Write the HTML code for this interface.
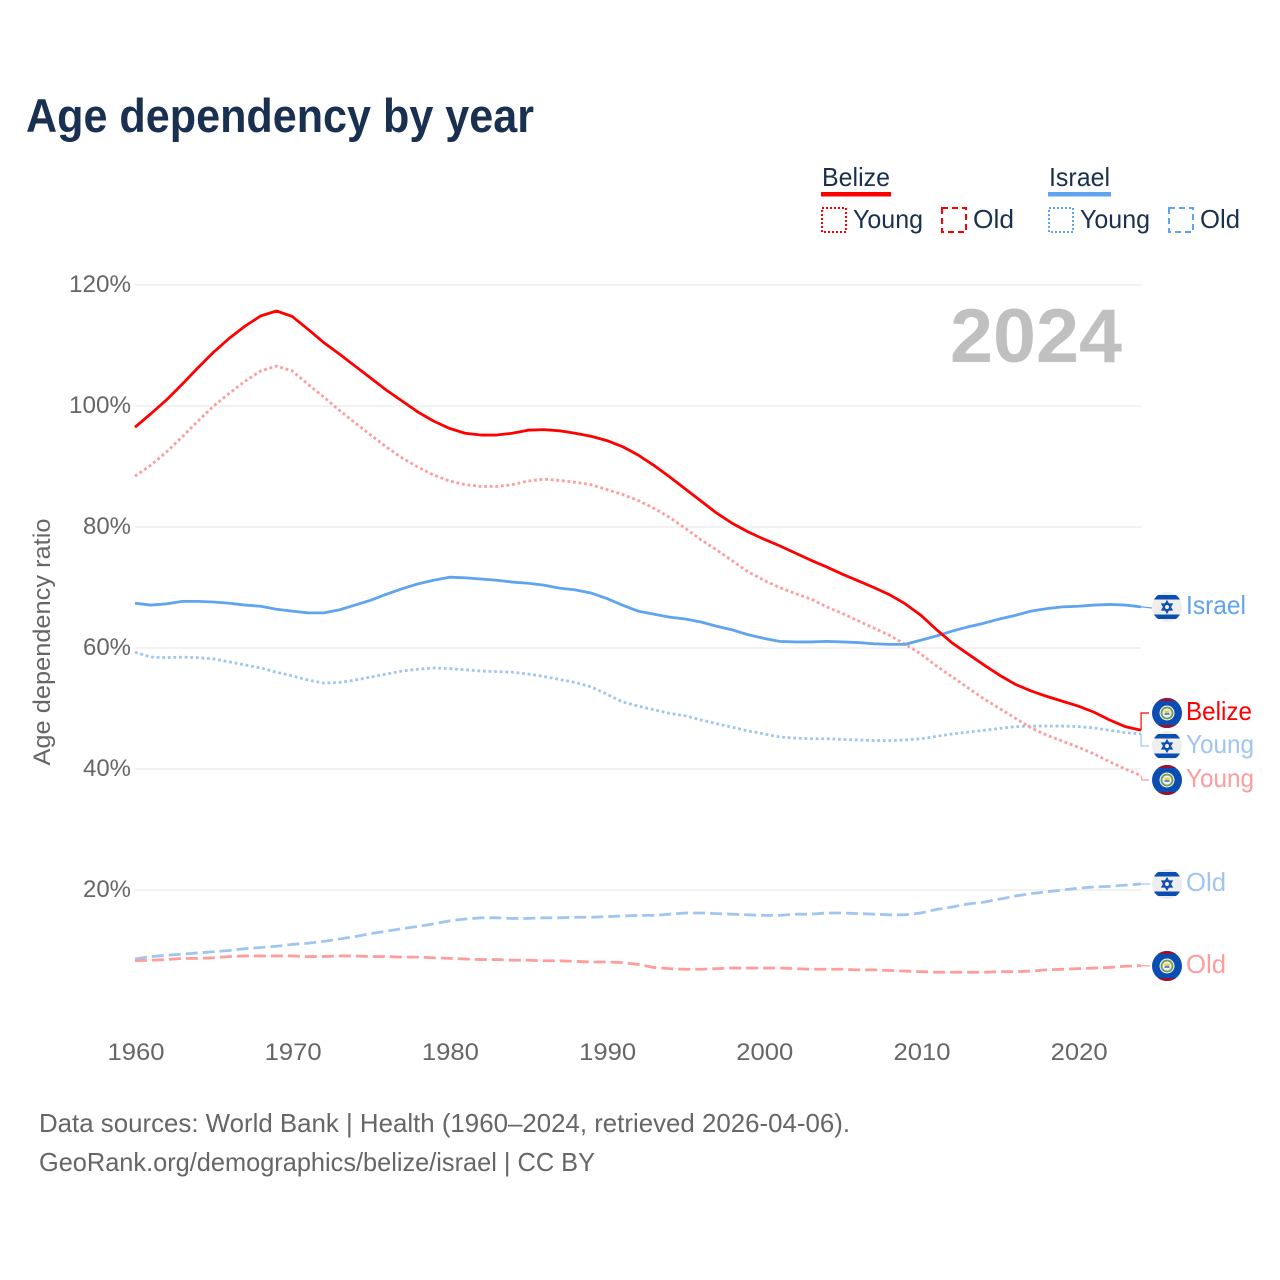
<!DOCTYPE html>
<html lang="en">
<head>
<meta charset="utf-8">
<title>Age dependency by year</title>
<style>
html,body{margin:0;padding:0;background:#fff;}
svg{display:block;font-family:"Liberation Sans",sans-serif;}
</style>
</head>
<body>
<svg id="chart" xmlns="http://www.w3.org/2000/svg" width="1280" height="1280" viewBox="0 0 1280 1280">
  <defs>
    <clipPath id="flag-clip"><circle cx="0" cy="0" r="15"/></clipPath>
  </defs>
  <rect x="0" y="0" width="1280" height="1280" fill="#ffffff"/>
  <text x="26" y="132" font-size="47" font-weight="700" fill="#1a3050" textLength="508" lengthAdjust="spacingAndGlyphs">Age dependency by year</text>

  <g font-size="26" fill="#1a3050">
    <text x="822" y="186" textLength="68" lengthAdjust="spacingAndGlyphs">Belize</text>
    <rect x="821" y="192" width="70" height="4.5" fill="#ff0000"/>
    <rect x="822" y="208" width="24" height="24" fill="none" stroke="#ff0000" stroke-width="2" stroke-dasharray="2 2"/>
    <text x="853" y="228" textLength="70" lengthAdjust="spacingAndGlyphs">Young</text>
    <rect x="942" y="208" width="24" height="24" fill="none" stroke="#ff0000" stroke-width="2" stroke-dasharray="6 4"/>
    <text x="973" y="228" textLength="41" lengthAdjust="spacingAndGlyphs">Old</text>
    <text x="1049" y="186" textLength="61" lengthAdjust="spacingAndGlyphs">Israel</text>
    <rect x="1048" y="192" width="63" height="4.5" fill="#5fa4ee"/>
    <rect x="1049" y="208" width="24" height="24" fill="none" stroke="#5fa4ee" stroke-width="2" stroke-dasharray="2 2"/>
    <text x="1080" y="228" textLength="70" lengthAdjust="spacingAndGlyphs">Young</text>
    <rect x="1169" y="208" width="24" height="24" fill="none" stroke="#5fa4ee" stroke-width="2" stroke-dasharray="6 4"/>
    <text x="1200" y="228" textLength="40" lengthAdjust="spacingAndGlyphs">Old</text>
  </g>

  <g id="grid"></g>
  <g id="yticks"></g>
  <g id="xticks"></g>
  <text transform="translate(50,642) rotate(-90)" text-anchor="middle" font-size="24" fill="#666666" textLength="247" lengthAdjust="spacingAndGlyphs">Age dependency ratio</text>
  <text x="1122" y="362" text-anchor="end" font-size="76" font-weight="700" fill="#c0c0c0" textLength="172" lengthAdjust="spacingAndGlyphs">2024</text>
  <g id="series"></g>
  <g id="endlabels"></g>

  <text x="39" y="1132" font-size="26" fill="#666666" textLength="811" lengthAdjust="spacingAndGlyphs">Data sources: World Bank | Health (1960–2024, retrieved 2026-04-06).</text>
  <text x="39" y="1171" font-size="26" fill="#666666" textLength="556" lengthAdjust="spacingAndGlyphs">GeoRank.org/demographics/belize/israel | CC BY</text>
</svg>
<script>
const years = [
  1960,1961,1962,1963,1964,1965,1966,1967,1968,1969,
  1970,1971,1972,1973,1974,1975,1976,1977,1978,1979,
  1980,1981,1982,1983,1984,1985,1986,1987,1988,1989,
  1990,1991,1992,1993,1994,1995,1996,1997,1998,1999,
  2000,2001,2002,2003,2004,2005,2006,2007,2008,2009,
  2010,2011,2012,2013,2014,2015,2016,2017,2018,2019,
  2020,2021,2022,2023,2024];
const belizeTotal = [
  96.5,98.7,101,103.6,106.3,108.9,111.2,113.2,114.9,115.7,
  114.8,112.7,110.5,108.6,106.6,104.6,102.6,100.8,99,97.5,
  96.3,95.5,95.2,95.2,95.5,96,96.1,95.9,95.5,95,
  94.3,93.3,91.9,90.2,88.3,86.3,84.3,82.3,80.6,79.2,
  78,76.9,75.7,74.5,73.4,72.2,71.1,70,68.8,67.3,
  65.4,63,60.8,59,57.2,55.5,54,52.9,52,51.2,
  50.4,49.4,48.1,47,46.4];
const belizeYoung = [
  88.4,90.2,92.4,94.9,97.5,100,102.1,104.1,105.8,106.6,
  105.8,103.6,101.5,99.3,97.2,95.2,93.2,91.4,89.9,88.6,
  87.6,87,86.7,86.7,87,87.6,87.9,87.7,87.4,87,
  86.2,85.4,84.4,83.1,81.6,79.8,77.9,76.2,74.4,72.6,
  71.2,70,69,68.1,66.8,65.7,64.5,63.3,62.1,60.6,
  59,57,55.2,53.4,51.6,50,48.4,46.8,45.6,44.6,
  43.6,42.5,41.2,40,38.9];
const belizeOld = [
  8.3,8.4,8.5,8.7,8.7,8.8,9,9.1,9.1,9.1,
  9.1,9,9,9.1,9.1,9,9,8.9,8.9,8.8,
  8.7,8.6,8.5,8.5,8.4,8.4,8.3,8.3,8.2,8.1,
  8.1,8,7.7,7.2,7,6.9,6.9,7,7.1,7.1,
  7.1,7.1,7,6.9,6.9,6.9,6.8,6.8,6.7,6.6,
  6.5,6.4,6.4,6.4,6.4,6.5,6.5,6.6,6.8,6.9,
  7,7.1,7.2,7.4,7.5];
const israelTotal = [
  67.4,67.1,67.3,67.7,67.7,67.6,67.4,67.1,66.9,66.4,
  66.1,65.8,65.8,66.3,67.1,67.9,68.9,69.8,70.6,71.2,
  71.7,71.6,71.4,71.2,70.9,70.7,70.4,69.9,69.6,69.1,
  68.2,67.1,66.1,65.6,65.1,64.8,64.3,63.6,63,62.2,
  61.6,61.1,61,61,61.1,61,60.9,60.7,60.6,60.6,
  61.3,62,62.8,63.5,64.1,64.8,65.4,66.1,66.5,66.8,
  66.9,67.1,67.2,67.1,66.8];
const israelYoung = [
  59.3,58.5,58.4,58.5,58.4,58.2,57.7,57.2,56.7,56,
  55.4,54.7,54.2,54.3,54.7,55.2,55.7,56.2,56.5,56.7,
  56.6,56.4,56.2,56.1,56,55.7,55.3,54.8,54.3,53.6,
  52.4,51.1,50.4,49.8,49.2,48.8,48.1,47.5,46.9,46.3,
  45.8,45.3,45.1,45,45,44.9,44.8,44.7,44.7,44.8,
  45,45.4,45.8,46.1,46.4,46.7,47,47.1,47.1,47.1,
  47,46.8,46.4,46,45.8];
const israelOld = [
  8.6,9,9.2,9.4,9.6,9.8,10,10.3,10.5,10.7,
  11,11.2,11.5,11.9,12.3,12.8,13.2,13.6,14,14.4,
  14.9,15.2,15.4,15.4,15.3,15.3,15.4,15.4,15.5,15.5,
  15.6,15.7,15.8,15.8,16,16.2,16.2,16.1,16,15.9,
  15.8,15.8,16,16,16.2,16.2,16.1,16,15.9,15.9,
  16.2,16.8,17.2,17.7,18,18.5,19,19.4,19.7,20,
  20.3,20.5,20.6,20.8,21];
const yTickValues = [20,40,60,80,100,120];
const xTickYears = [1960,1970,1980,1990,2000,2010,2020];

const NS = 'http://www.w3.org/2000/svg';
function xScale(year){ return 135 + (year - 1960) * 15.72; }
function yScale(v){ return 1011 - v * 6.05; }
function make(tag, attrs, parent){
  const el = document.createElementNS(NS, tag);
  for (const k in attrs) el.setAttribute(k, attrs[k]);
  parent.appendChild(el);
  return el;
}
const grid = document.getElementById('grid');
const yticks = document.getElementById('yticks');
const xticks = document.getElementById('xticks');
const seriesG = document.getElementById('series');
const endG = document.getElementById('endlabels');

yTickValues.forEach(function(v){
  const line = make('line', {x1:135, x2:1141, y1:yScale(v), y2:yScale(v), stroke:'#ededed', 'stroke-width':1.5}, grid);
  
  
  const t = make('text', {x:131, y:yScale(v)+7, 'text-anchor':'end', 'font-size':24, fill:'#666666', textLength:(v>=100?62:48), lengthAdjust:'spacingAndGlyphs'}, yticks);
  t.textContent = v + '%';
  
  
});
xTickYears.forEach(function(y){
  const t = make('text', {x:xScale(y)+1, y:1060, 'text-anchor':'middle', 'font-size':24, fill:'#666666', textLength:57, lengthAdjust:'spacingAndGlyphs'}, xticks);
  t.textContent = y;
  
  
});

function linePath(values){
  return values.map(function(v,i){
    return (i?'L':'M') + xScale(years[i]).toFixed(2) + ',' + yScale(v).toFixed(2);
  }).join(' ');
}
function drawSeries(values, color, dash, name, width){
  const p = make('path', {d:linePath(values), fill:'none', stroke:color, 'stroke-width':width, 'stroke-linejoin':'round'}, seriesG);
  if (dash) p.setAttribute('stroke-dasharray', dash);
  
  
}
drawSeries(israelOld,  '#a0c5f0', '12 5', 'line-israel-old', 2.8);
drawSeries(belizeOld,  '#ff9c9c', '12 5', 'line-belize-old', 2.8);
drawSeries(israelYoung,'#a0c5f0', '2.8 2.8', 'line-israel-young', 2.8);
drawSeries(belizeYoung,'#ff9c9c', '2.8 2.8', 'line-belize-young', 2.8);
drawSeries(israelTotal,'#5fa4ee', '', 'line-israel-total', 2.8);
drawSeries(belizeTotal,'#ff0000', '', 'line-belize-total', 2.8);

function drawIsraelFlag(cy, name){
  const g = make('g', {transform:'translate(1167,' + cy + ')', 'clip-path':'url(#flag-clip)'}, endG);
  
  
  make('rect', {x:-15, y:-15, width:30, height:30, fill:'#eeeeee'}, g);
  make('rect', {x:-15, y:-12, width:30, height:4.5, fill:'#0b4db0'}, g);
  make('rect', {x:-15, y:7.5, width:30, height:4.5, fill:'#0b4db0'}, g);
  make('path', {d:'M0,-5.5 L4.8,2.8 L-4.8,2.8 Z', fill:'none', stroke:'#0b4db0', 'stroke-width':1.6}, g);
  make('path', {d:'M0,5.5 L4.8,-2.8 L-4.8,-2.8 Z', fill:'none', stroke:'#0b4db0', 'stroke-width':1.6}, g);
}
function drawBelizeFlag(cy, name){
  const g = make('g', {transform:'translate(1167,' + cy + ')', 'clip-path':'url(#flag-clip)'}, endG);
  
  
  make('rect', {x:-15, y:-15, width:30, height:30, fill:'#0b4db0'}, g);
  make('rect', {x:-15, y:-15, width:30, height:3, fill:'#9c1030'}, g);
  make('rect', {x:-15, y:12, width:30, height:3, fill:'#9c1030'}, g);
  make('circle', {cx:0, cy:0, r:7.5, fill:'#f2f2f2'}, g);
  make('circle', {cx:0, cy:0, r:5.5, fill:'none', stroke:'#6d9c4a', 'stroke-width':1.8}, g);
  make('rect', {x:-2.5, y:-2.5, width:5, height:2.5, fill:'#e9c84a'}, g);
  make('rect', {x:-2.5, y:0, width:5, height:2, fill:'#5f8fc8'}, g);
}

const lastIndex = years.length - 1;
const endX = xScale(years[lastIndex]);

const leader1 = make('path', {d:'M' + endX + ',' + yScale(israelTotal[lastIndex]) + ' L1152,608', fill:'none', stroke:'#5fa4ee', 'stroke-width':1.2}, endG);


const leader2 = make('path', {d:'M' + endX + ',' + yScale(belizeTotal[lastIndex]) + ' V713 H1149', fill:'none', stroke:'#ff0000', 'stroke-width':1.2}, endG);


const leader3 = make('path', {d:'M' + endX + ',' + yScale(israelYoung[lastIndex]) + ' V746 H1149', fill:'none', stroke:'#a0c5f0', 'stroke-width':1.2}, endG);


const leader4 = make('path', {d:'M' + endX + ',' + yScale(belizeYoung[lastIndex]) + ' L1142,780 H1149', fill:'none', stroke:'#ff9c9c', 'stroke-width':1.2}, endG);


const leader5 = make('path', {d:'M' + endX + ',' + yScale(israelOld[lastIndex]) + ' L1150,884', fill:'none', stroke:'#a0c5f0', 'stroke-width':1.2}, endG);


const leader6 = make('path', {d:'M' + endX + ',' + yScale(belizeOld[lastIndex]) + ' L1150,966', fill:'none', stroke:'#ff9c9c', 'stroke-width':1.2}, endG);



drawIsraelFlag(607, 'flag-israel-total');
drawBelizeFlag(713, 'flag-belize-total');
drawIsraelFlag(746, 'flag-israel-young');
drawBelizeFlag(780, 'flag-belize-young');
drawIsraelFlag(884, 'flag-israel-old');
drawBelizeFlag(966, 'flag-belize-old');

function endLabel(text, y, color, width, name){
  const t = make('text', {x:1186, y:y, 'font-size':26, fill:color, textLength:width, lengthAdjust:'spacingAndGlyphs'}, endG);
  t.textContent = text;
  
  
}
endLabel('Israel', 614, '#5fa4ee', 60, 'end-label-israel');
endLabel('Belize', 720, '#ff0000', 66, 'end-label-belize');
endLabel('Young', 753, '#a0c5f0', 68, 'end-label-israel-young');
endLabel('Young', 787, '#ff9c9c', 68, 'end-label-belize-young');
endLabel('Old', 891, '#a0c5f0', 40, 'end-label-israel-old');
endLabel('Old', 973, '#ff9c9c', 40, 'end-label-belize-old');
</script>
</body>
</html>
